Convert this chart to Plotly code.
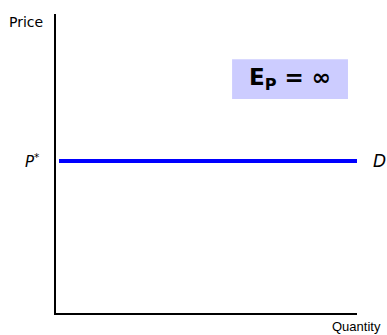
import plotly.graph_objects as go

# Data
quantity = [0.1, 10]
price_star = 5.0
price = [price_star, price_star]
x_title = "Quantity"
y_title = "Price"
price_label = "P<sup>*</sup>"
demand_label = "D"
elasticity_label = "E<sub>P</sub> = ∞"

fig = go.Figure()
fig.add_trace(go.Scatter(x=quantity, y=price, mode="lines",
                         line=dict(color="#0000ff", width=4),
                         showlegend=False, hoverinfo="skip"))

fig.update_layout(
    width=387, height=335,
    margin=dict(l=56, r=30, t=14, b=22),
    paper_bgcolor="white", plot_bgcolor="white",
    xaxis=dict(range=[0, 10], showline=True, linecolor="black", linewidth=2,
               showgrid=False, zeroline=False, showticklabels=False, ticks=""),
    yaxis=dict(range=[0, 9.84], showline=True, linecolor="black", linewidth=2,
               showgrid=False, zeroline=False, showticklabels=False, ticks=""),
    font=dict(family="Liberation Sans, Arial, sans-serif", color="black"),
)

# Elasticity box
fig.add_shape(type="rect", xref="paper", yref="paper",
              x0=0.585, x1=0.970, y0=0.716, y1=0.849,
              fillcolor="#ccccff", line=dict(width=0), layer="below")
fig.add_annotation(xref="paper", yref="paper", x=0.7775, y=0.7825,
                   text="<b>" + elasticity_label + "</b>", showarrow=False,
                   font=dict(size=23, family="DejaVu Sans, sans-serif"),
                   xanchor="center", yanchor="middle")

# Axis titles
fig.add_annotation(xref="paper", yref="paper", x=0, y=1, xanchor="right", yanchor="middle",
                   xshift=-11, yshift=-8, text=y_title, showarrow=False,
                   font=dict(size=14, family="DejaVu Sans, sans-serif"))
fig.add_annotation(xref="paper", yref="paper", x=1, y=0, xanchor="right", yanchor="top",
                   xshift=26, yshift=-4, text=x_title, showarrow=False,
                   font=dict(size=13, family="Liberation Sans, Arial, sans-serif"))

# Line labels
fig.add_annotation(x=0, y=price_star, xanchor="right", yanchor="middle", xshift=-15,
                   text="<i>" + price_label + "</i>", showarrow=False,
                   font=dict(size=15, family="DejaVu Sans, sans-serif"))
fig.add_annotation(x=10, y=price_star, xanchor="left", yanchor="middle", xshift=14,
                   text="<i>" + demand_label + "</i>", showarrow=False,
                   font=dict(size=17, family="DejaVu Sans, sans-serif"))

fig.write_html("out.html", config={"displayModeBar": False},
               post_script="document.body.style.margin='0';document.body.style.overflow='hidden';")
